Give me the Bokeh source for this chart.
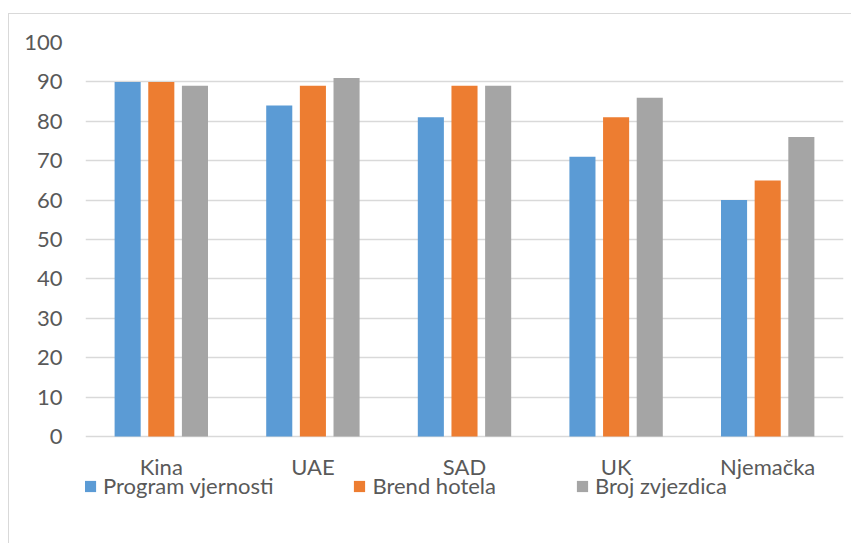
from bokeh.plotting import figure
from bokeh.models import FactorRange, Range1d, FixedTicker, Legend, LegendItem, ColumnDataSource
from bokeh.core.properties import value
from bokeh.transform import dodge
from bokeh.embed import file_html
from bokeh.resources import INLINE

categories = ["Kina", "UAE", "SAD", "UK", "Njemačka"]
program_vjernosti = [90, 84, 81, 71, 60]
brend_hotela = [90, 89, 89, 81, 65]
broj_zvjezdica = [89, 91, 89, 86, 76]
series_names = ["Program vjernosti", "Brend hotela", "Broj zvjezdica"]
colors = ["#5B9BD5", "#ED7D31", "#A5A5A5"]
y_ticks = [0, 10, 20, 30, 40, 50, 60, 70, 80, 90, 100]

FONT = "Lato"
TXT = "#595959"
GRID = "#d9d9d9"

source = ColumnDataSource(dict(cat=categories, s0=program_vjernosti, s1=brend_hotela, s2=broj_zvjezdica,
                               base=[0] * len(categories)))

# frame spans from the 100 line down to the bottom of the chart, so the legend fits inside it
p = figure(x_range=FactorRange(*categories, range_padding=0), y_range=Range1d(-27.4, 100),
           width=843, height=530, output_backend="svg", toolbar_location=None,
           min_border_left=76, min_border_right=9, min_border_top=28, min_border_bottom=0)
p.margin = (13, 0, 0, 8)
p.styles = {"border-top": "1px solid " + GRID, "border-left": "1px solid " + GRID}
p.outline_line_color = None

offsets = [-0.222, 0.0, 0.222]
renderers = []
for i, key in enumerate(["s0", "s1", "s2"]):
    r = p.vbar(x=dodge("cat", offsets[i], range=p.x_range), top=key, bottom="base", width=0.172,
               source=source, fill_color=colors[i], line_color=None)
    renderers.append(r)

# category labels under the zero line
p.text(x="cat", y="base", text="cat", source=source, text_align="center", text_baseline="alphabetic",
       y_offset=30, text_font=value(FONT), text_font_size="22px", text_color=TXT)

p.xaxis.visible = False
p.xgrid.grid_line_color = None
p.ygrid.grid_line_color = GRID
p.ygrid.grid_line_width = 1.5
p.yaxis.ticker = FixedTicker(ticks=y_ticks)
p.yaxis.axis_line_color = None
p.yaxis.major_tick_line_color = None
p.yaxis.minor_tick_line_color = None
p.yaxis.major_tick_out = 0
p.yaxis.major_tick_in = 0
p.yaxis.major_label_standoff = 23
p.yaxis.major_label_text_font = FONT
p.yaxis.major_label_text_font_size = "22px"
p.yaxis.major_label_text_color = TXT

legend = Legend(items=[LegendItem(label=series_names[i], renderers=[renderers[i]]) for i in range(3)],
                orientation="horizontal", location=(-2, 45))
legend.border_line_color = None
legend.background_fill_alpha = 0
legend.margin = 0
legend.padding = 3
legend.spacing = 79
legend.glyph_width = 14
legend.glyph_height = 14
legend.label_standoff = 6
legend.label_height = 20
legend.label_text_font = FONT
legend.label_text_font_size = "22px"
legend.label_text_color = TXT
p.add_layout(legend, "center")

open("out.html", "w").write(file_html(p, INLINE))
